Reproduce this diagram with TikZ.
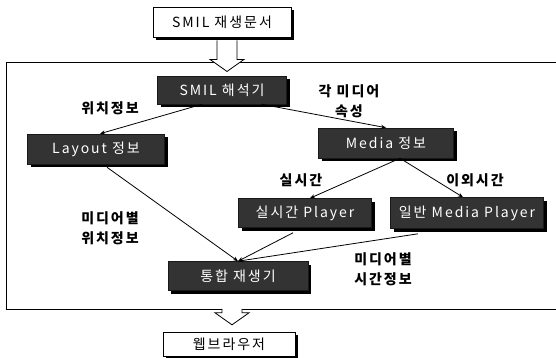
\documentclass[tikz,border=0pt]{standalone}
\usepackage{fontspec}
\setmainfont{Noto Sans CJK KR}
\usetikzlibrary{arrows.meta,shadows,calc}
\tikzset{
  base/.style={font=\fontsize{14}{17}\selectfont\addfontfeature{LetterSpace=14}, inner sep=0pt, align=center},
  whitebox/.style={base, draw=black, line width=0.9pt, fill=white,
    drop shadow={shadow xshift=3pt, shadow yshift=-3pt, fill=black, opacity=1}},
  darkbox/.style={base, fill=black!80, text=white, draw=black!90, line width=0.6pt,
    drop shadow={shadow xshift=3pt, shadow yshift=-3pt, fill=black, opacity=1}},
  conn/.style={line width=0.8pt, -{Stealth[length=5pt,width=4pt]}},
  lbl/.style={base, font=\fontsize{14}{20}\selectfont\bfseries\addfontfeature{LetterSpace=14}, inner sep=1pt},
  hollow/.style={draw=black, line width=0.8pt, fill=white},
  frame/.style={draw=black, line width=0.8pt}
}
\begin{document}
\begin{tikzpicture}[x=1pt,y=-1pt]
\useasboundingbox (0,0) rectangle (556,358);
% frame
\draw[frame] (556,62) -- (6,62) -- (6,309) -- (556,309);
% nodes
\node[whitebox, minimum width=138, minimum height=30] (doc) at (222,22) {SMIL 재생문서};
\node[darkbox, minimum width=129, minimum height=28] (parser) at (222,90) {SMIL 해석기};
\node[darkbox, minimum width=137, minimum height=30] (layout) at (96,149) {Layout 정보};
\node[darkbox, minimum width=135, minimum height=30] (media) at (386,143) {Media 정보};
\node[darkbox, minimum width=133, minimum height=29] (rt) at (305,213) {실시간 Player};
\node[darkbox, minimum width=153, minimum height=31] (nrt) at (467,213) {일반 Media Player};
\node[darkbox, minimum width=140, minimum height=29] (engine) at (238,276) {통합 재생기};
\node[whitebox, minimum width=132, minimum height=24] (browser) at (229,344) {웹브라우저};
% hollow arrows
\coordinate (a1) at ($(doc.south)+(5,3)$);
\draw[hollow] ($(a1)+(-10,0)$) -- ($(a1)+(-10,19)$) -- ($(a1)+(-17,19)$) -- ($(a1)+(0,31)$)
  -- ($(a1)+(17,19)$) -- ($(a1)+(10,19)$) -- ($(a1)+(10,0)$);
\coordinate (a2) at ($(engine.south)+(-6,3)$);
\draw[hollow] ($(a2)+(-10,15)$) -- ($(a2)+(-10,19)$) -- ($(a2)+(-17,19)$) -- ($(a2)+(0,31)$)
  -- ($(a2)+(17,19)$) -- ($(a2)+(10,19)$) -- ($(a2)+(10,15)$);
% connectors
\draw[conn] ($(parser.south)+(-20,0)$) -- ($(layout.north)+(4,0)$);
\draw[conn] ($(parser.south)+(40,0)$) -- ($(media.north)+(0,0)$);
\draw[conn] ($(media.south)+(14,0)$) -- ($(rt.north)+(5,0)$);
\draw[conn] ($(media.south)+(14,0)$) -- ($(nrt.north)+(-4,0)$);
\draw[conn] ($(layout.south)+(11,3)$) -- (engine.north);
\draw[conn] ($(rt.south)+(-12,5)$) -- (engine.north);
\draw[conn] ($(nrt.south)+(-49,5)$) -- (engine.north);
% labels
\node[lbl] (l1) at (110,108) {위치정보};
\node[lbl] (l2) at (349,101) {각 미디어\\속성};
\node[lbl] (l3) at (301,180) {실시간};
\node[lbl] (l4) at (475,180) {이외시간};
\node[lbl] (l5) at (110,228) {미디어별\\위치정보};
\node[lbl] (l6) at (383,269) {미디어별\\시간정보};
\end{tikzpicture}
\end{document}
